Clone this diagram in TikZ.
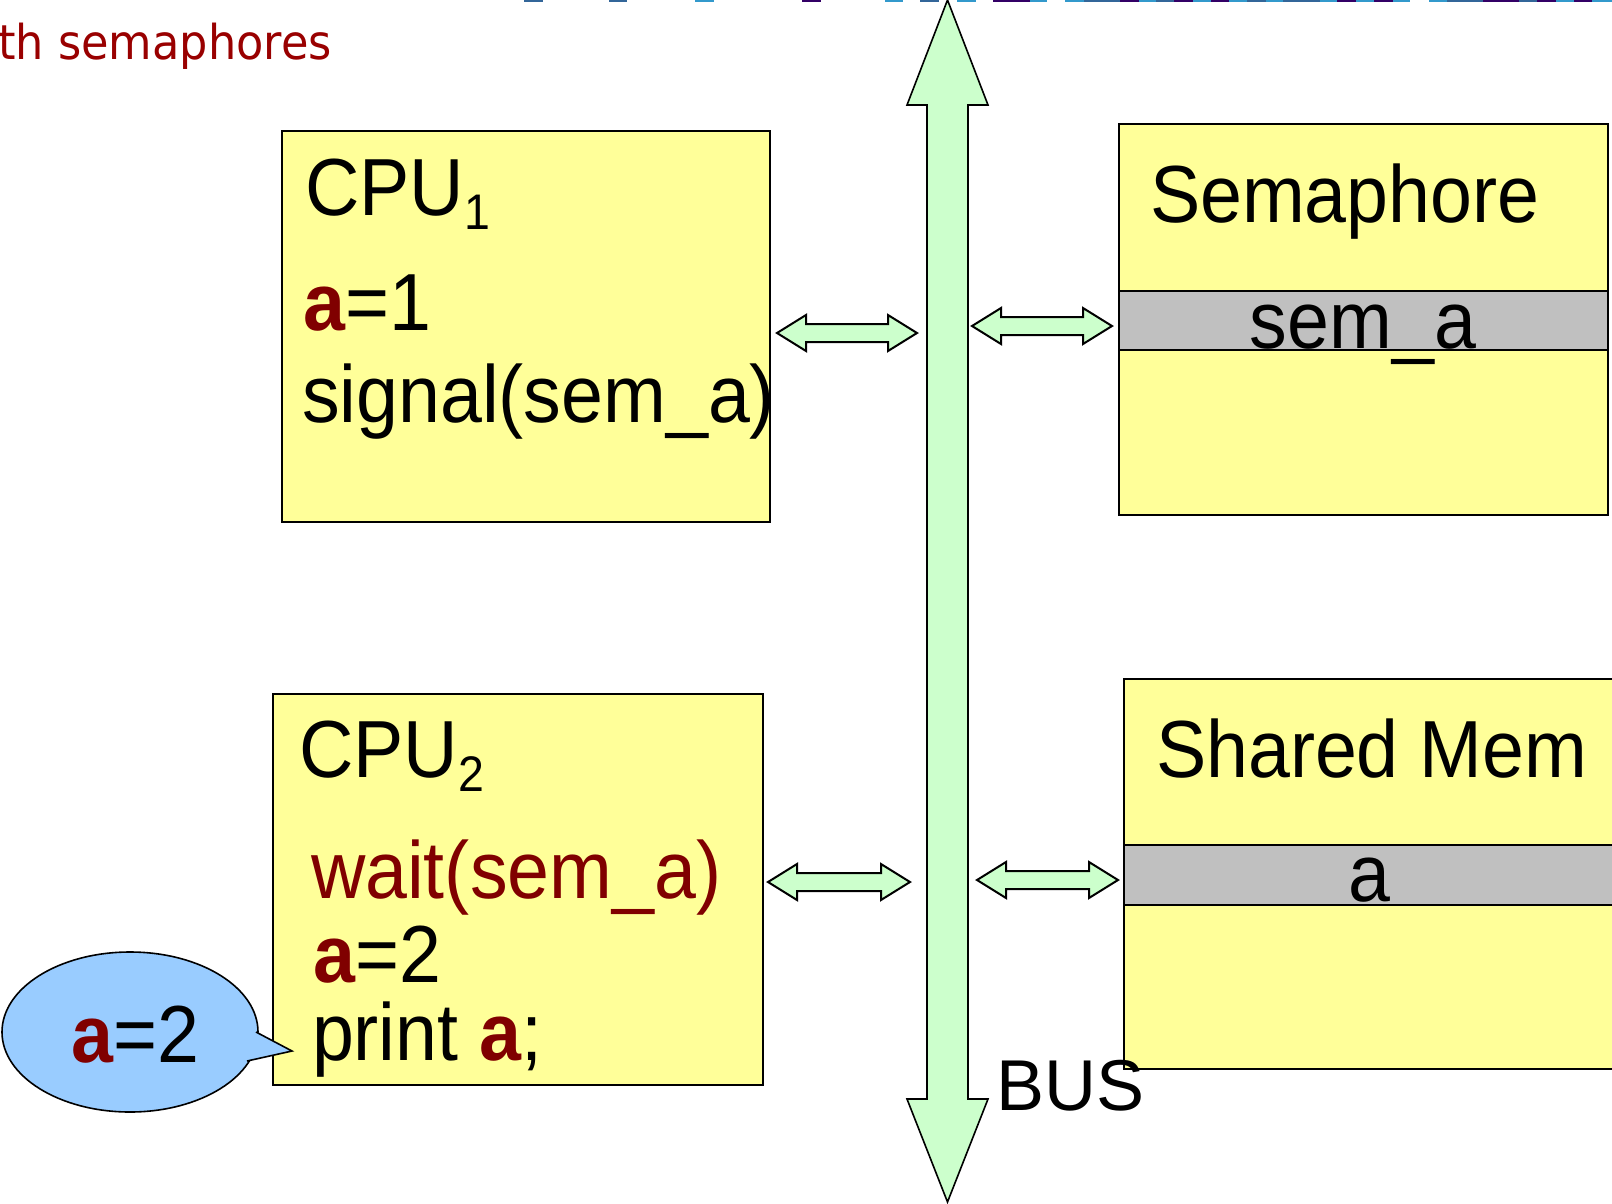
\documentclass[tikz,border=0pt]{standalone}
\usepackage{fontspec}
\setmainfont{Liberation Sans}[FakeStretch=0.93]
\newfontfamily\plainfont{Liberation Sans}
\newfontfamily\titlefont{DejaVu Sans}[FakeStretch=0.93]
\definecolor{memyellow}{HTML}{FFFF99}
\definecolor{busgreen}{HTML}{CCFFCC}
\definecolor{cellgray}{HTML}{C0C0C0}
\definecolor{bubbleblue}{HTML}{99CCFF}
\definecolor{varred}{HTML}{800000}
\definecolor{titlered}{HTML}{990000}
\definecolor{stripsteel}{HTML}{336699}
\definecolor{stripsky}{HTML}{3399CC}
\definecolor{strippurple}{HTML}{330066}
\newcommand\varA{\textcolor{varred}{\textbf{a}}}
\newcommand\boxfont{\fontsize{81}{90}\selectfont}
\newcommand\subfont{\fontsize{50}{55}\selectfont}
\tikzset{
  unitbox/.style={draw=black, line width=1.6pt, fill=memyellow, anchor=north west,
    inner sep=0pt, outer sep=0pt},
  cellbox/.style={draw=black, line width=1.6pt, fill=cellgray, anchor=north west,
    inner sep=0pt, outer sep=0pt},
  boxtext/.style={anchor=base west, inner sep=0pt, outer sep=0pt, font=\boxfont},
  celltext/.style={anchor=base, inner sep=0pt, outer sep=0pt, font=\boxfont},
  blockarrow/.style={draw=black, line width=2pt, fill=busgreen, line join=miter},
  busarrow/.style={draw=black, line width=1.6pt, fill=busgreen, line join=miter},
  pics/dblarrow/.style={code={
    \draw[blockarrow] (0,0) -- ++(29,-18) -- ++(0,9) -- ++(#1-58,0) -- ++(0,-9)
      -- ++(29,18) -- ++(-29,18) -- ++(0,-9) -- ++(58-#1,0) -- ++(0,9) -- cycle;}}
}
\begin{document}
\begin{tikzpicture}[x=1pt, y=-1pt]
\useasboundingbox (0,0) rectangle (1612,1203);
\clip (0,0) rectangle (1612,1203);

% dashed rule along the upper edge
\foreach \xa/\xb/\c in {524/543/stripsteel, 609/627/stripsteel, 695/714/stripsky,
  802/821/strippurple, 885/903/stripsky, 920/939/stripsteel, 957/976/stripsky,
  993/1030/strippurple, 1030/1047/stripsky, 1065/1084/stripsky, 1084/1120/stripsteel,
  1120/1139/strippurple, 1139/1156/stripsky, 1156/1174/stripsteel, 1174/1193/strippurple,
  1193/1211/stripsky, 1211/1229/strippurple, 1229/1247/stripsky, 1247/1266/stripsteel,
  1266/1283/stripsky, 1283/1320/stripsteel, 1320/1337/stripsky, 1337/1356/strippurple,
  1356/1374/stripsky, 1374/1393/strippurple, 1393/1410/stripsky, 1429/1447/stripsky,
  1447/1483/stripsteel, 1483/1519/strippurple, 1519/1537/stripsteel, 1537/1556/strippurple,
  1556/1574/stripsky, 1574/1592/strippurple, 1592/1612/stripsky}
  \fill[\c] (\xa,0) rectangle (\xb,2);

% heading fragment
\node[anchor=base west, inner sep=0pt, text=titlered,
  font=\titlefont\fontsize{48}{53}\selectfont] (heading) at (-2,59) {th semaphores};

% system bus
\coordinate (bustop) at (947.5,0);
\coordinate (busbot) at (947.5,1202);
\draw[busarrow] (bustop) -- ++(40.5,105) -- ++(-20,0) -- (968,1099) -- ++(20,0)
  -- (busbot) -- ++(-40.5,-103) -- ++(20,0) -- (927,105) -- ++(-20,0) -- cycle;

% processor 1
\node[unitbox, minimum width=488pt, minimum height=391pt] (cpu1) at (282,131) {};
\node[boxtext] (cpu1name) at (305,215) {CPU\raisebox{-14pt}{\subfont 1}};
\node[boxtext] (cpu1set) at (303,330) {\varA=1};
\node[boxtext] (cpu1sig) at (302,422) {signal(sem\_a)};

% processor 2
\node[unitbox, minimum width=490pt, minimum height=391pt] (cpu2) at (273,694) {};
\node[boxtext] (cpu2name) at (299,777) {CPU\raisebox{-14pt}{\subfont 2}};
\node[boxtext, text=varred] (cpu2wait) at (311,898) {wait(sem\_a)};
\node[boxtext] (cpu2set) at (313,982) {\varA=2};
\node[boxtext] (cpu2print) at (312,1060) {print \varA;};

% semaphore memory
\node[unitbox, minimum width=489pt, minimum height=391pt] (semmem) at (1119,124) {};
\node[cellbox, minimum width=489pt, minimum height=59pt] (semcell) at (1119,291) {};
\node[boxtext] (semname) at (1150,222) {Semaphore};
\node[celltext] (semvar) at (1363,348) {sem\_a};

% shared memory
\node[unitbox, minimum width=492pt, minimum height=390pt] (shmem) at (1124,679) {};
\node[cellbox, minimum width=492pt, minimum height=60pt] (shcell) at (1124,845) {};
\node[boxtext] (shname) at (1156,777) {Shared Mem};
\node[celltext] (shvar) at (1369,901) {a};

% bus label, set over the memory box
\node[anchor=base west, inner sep=0pt, font=\plainfont\fontsize{72}{80}\selectfont]
  (buslabel) at (996,1110) {BUS};

% bus connections
\pic at (777,333) {dblarrow=140};
\pic at (972,326) {dblarrow=140};
\pic at (768,882) {dblarrow=142};
\pic at (977,880) {dblarrow=141};

% value bubble
\draw[fill=bubbleblue, line width=1.6pt] (130,1032) ellipse [x radius=128, y radius=80];
\fill[bubbleblue] (248,1028) -- (257,1032) -- (292,1051) -- (247,1061) -- (236,1050) -- cycle;
\draw[line width=1.6pt, line join=miter] (256,1032) -- (292,1051) -- (247,1061);
\node[boxtext] (bubbletext) at (71,1062) {\varA=2};
\end{tikzpicture}
\end{document}
